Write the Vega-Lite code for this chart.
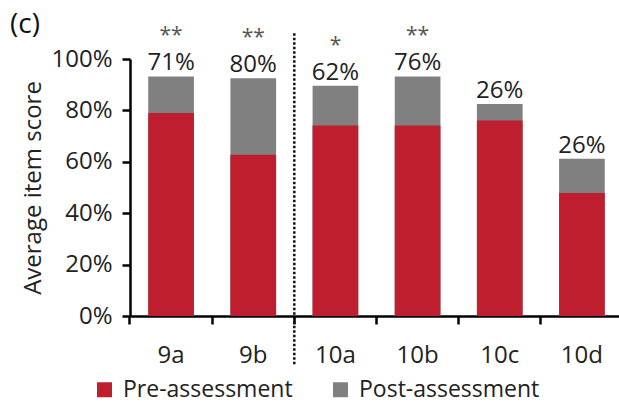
{
  "$schema": "https://vega.github.io/schema/vega-lite/v6.json",
  "autosize": "none",
  "width": 489,
  "height": 257,
  "padding": {"left": 130, "top": 59, "right": 0, "bottom": 86},
  "background": "white",
  "title": {"text": "(c)", "anchor": "start", "frame": "group", "dx": -120, "offset": -36, "fontSize": 28, "fontWeight": "normal", "font": "Open Sans", "color": "#111", "baseline": "alphabetic"},
  "data": {"values": [
    {"item": "9a", "pre": 0.790, "post": 0.932, "gain": "71%", "sig": "**"},
    {"item": "9b", "pre": 0.627, "post": 0.925, "gain": "80%", "sig": "**"},
    {"item": "10a", "pre": 0.741, "post": 0.896, "gain": "62%", "sig": "*"},
    {"item": "10b", "pre": 0.741, "post": 0.932, "gain": "76%", "sig": "**"},
    {"item": "10c", "pre": 0.761, "post": 0.825, "gain": "26%", "sig": ""},
    {"item": "10d", "pre": 0.479, "post": 0.612, "gain": "26%", "sig": ""}
  ]},
  "encoding": {
    "x": {
      "field": "item", "type": "nominal",
      "scale": {"domain": ["9a", "9b", "10a", "10b", "10c", "10d"], "range": [0, 493], "paddingInner": 0.444, "paddingOuter": 0.222},
      "axis": {"title": null, "labelAngle": 0, "labelFontSize": 24, "labelFont": "Open Sans", "labelColor": "#222", "domainColor": "#000", "domainWidth": 2.5, "tickColor": "#000", "tickWidth": 2.5, "tickSize": 8, "bandPosition": -0.4, "labelPadding": 19}
    }
  },
  "layer": [
    {
      "mark": {"type": "bar"},
      "encoding": {
        "y": {"field": "post", "type": "quantitative",
          "scale": {"domain": [0, 1], "nice": false},
          "axis": {"title": "Average item score", "titleFontSize": 24, "titleFont": "Open Sans", "titleFontWeight": "normal", "titleColor": "#222", "titlePadding": 5, "format": ".0%", "values": [0, 0.2, 0.4, 0.6, 0.8, 1], "labelFontSize": 24, "labelFont": "Open Sans", "labelColor": "#222", "labelPadding": 10, "domainColor": "#000", "domainWidth": 2.5, "tickColor": "#000", "tickWidth": 2.5, "tickSize": 8, "grid": false}},
        "color": {"datum": "Post-assessment", "type": "nominal",
          "scale": {"domain": ["Pre-assessment", "Post-assessment"], "range": ["#BE1E2D", "#808080"]},
          "legend": {"title": null, "orient": "none", "direction": "horizontal", "legendX": -37, "legendY": 319, "symbolType": "square", "symbolSize": 225, "symbolStrokeWidth": 0, "labelFontSize": 23, "labelFont": "Open Sans", "labelColor": "#222", "labelOffset": 7, "labelLimit": 400, "columnPadding": 36, "padding": 0}}
      }
    },
    {
      "mark": {"type": "bar"},
      "encoding": {
        "y": {"field": "pre", "type": "quantitative"},
        "color": {"datum": "Pre-assessment", "type": "nominal"}
      }
    },
    {
      "mark": {"type": "text", "baseline": "alphabetic", "dy": -6, "fontSize": 24, "font": "Open Sans", "color": "#222"},
      "encoding": {
        "y": {"field": "post", "type": "quantitative"},
        "text": {"field": "gain"}
      }
    },
    {
      "mark": {"type": "text", "baseline": "alphabetic", "dy": -34, "fontSize": 21, "font": "Open Sans", "color": "#555"},
      "encoding": {
        "y": {"field": "post", "type": "quantitative"},
        "text": {"field": "sig"}
      }
    },
    {
      "data": {"values": [{"item": "10a"}]},
      "mark": {"type": "rule", "color": "#111", "strokeWidth": 2.5, "strokeDash": [2.5, 2]},
      "encoding": {
        "x": {"field": "item", "type": "nominal", "bandPosition": -0.4},
        "y": {"datum": 1.1},
        "y2": {"datum": -0.195}
      }
    }
  ],
  "config": {"view": {"stroke": null}}
}
